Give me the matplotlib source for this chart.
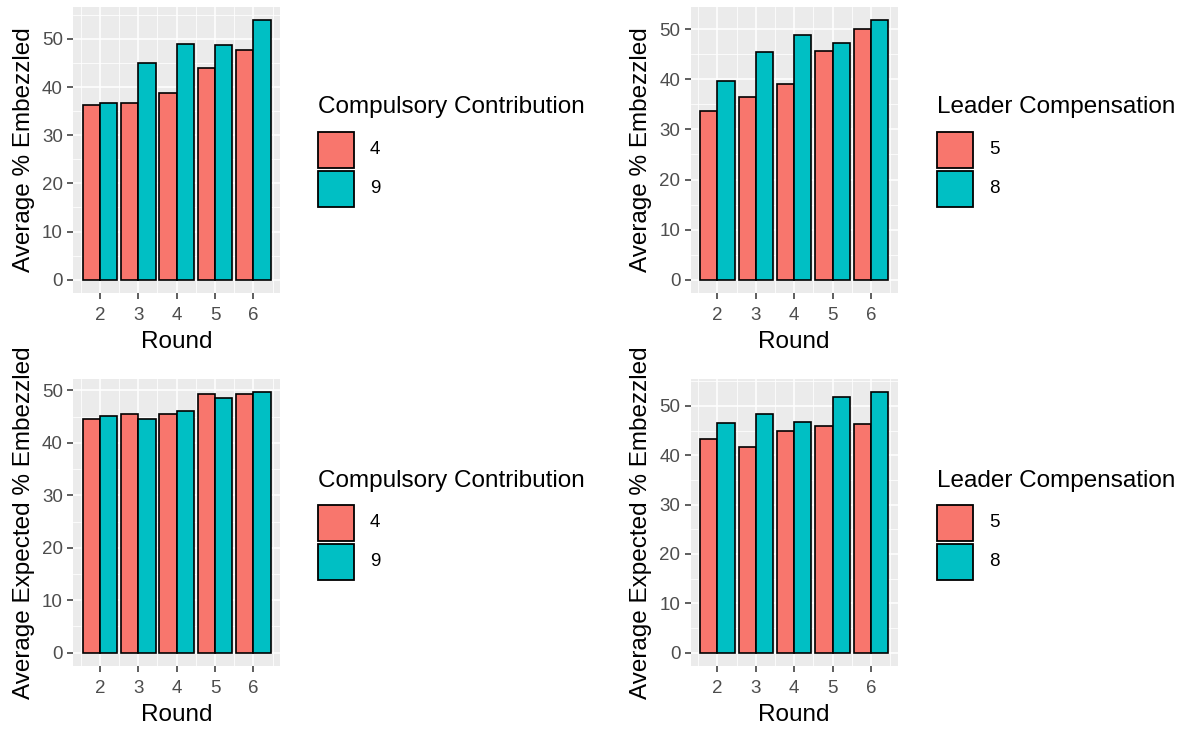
import matplotlib
matplotlib.use("Agg")
import matplotlib.pyplot as plt
from matplotlib.patches import Rectangle
import numpy as np

rounds = [2, 3, 4, 5, 6]

# Top-left: Average % Embezzled by Compulsory Contribution
cc_labels = ["4", "9"]
emb_cc4 = [36.2, 36.7, 38.7, 44.0, 47.7]
emb_cc9 = [36.7, 45.1, 49.0, 48.8, 54.0]

# Top-right: Average % Embezzled by Leader Compensation
lc_labels = ["5", "8"]
emb_lc5 = [33.6, 36.5, 39.0, 45.7, 50.0]
emb_lc8 = [39.6, 45.5, 48.9, 47.3, 51.9]

# Bottom-left: Average Expected % Embezzled by Compulsory Contribution
exp_cc4 = [44.5, 45.5, 45.5, 49.4, 49.4]
exp_cc9 = [45.1, 44.5, 46.1, 48.5, 49.7]

# Bottom-right: Average Expected % Embezzled by Leader Compensation
exp_lc5 = [43.2, 41.7, 45.0, 46.0, 46.3]
exp_lc8 = [46.5, 48.4, 46.7, 51.7, 52.8]

RED = "#F8766D"
TEAL = "#00BFC4"
FONT = "Liberation Sans"
TICK_FS = 13.5
TITLE_FS = 17.5

W, H = 1189, 729
fig = plt.figure(figsize=(W / 100, H / 100), dpi=100)
fig.patch.set_facecolor("white")


def px_axes(left, top, right, bottom):
    return fig.add_axes([left / W, 1 - bottom / H, (right - left) / W, (bottom - top) / H])


def panel(ax, a, b, ylabel):
    x = np.array(rounds, dtype=float)
    w = 0.45
    ax.bar(x - w / 2, a, width=w, color=RED, edgecolor="black", linewidth=1.2, zorder=3)
    ax.bar(x + w / 2, b, width=w, color=TEAL, edgecolor="black", linewidth=1.2, zorder=3)
    ymax = max(max(a), max(b))
    ax.set_ylim(-0.05 * ymax, ymax * 1.05)
    lo, hi = min(rounds) - 0.45, max(rounds) + 0.45
    pad = (hi - lo) * 0.05
    ax.set_xlim(lo - pad, hi + pad)
    ax.set_facecolor("#EBEBEB")
    for s in ax.spines.values():
        s.set_visible(False)
    ax.set_xticks(rounds)
    ax.set_xticks([r - 0.5 for r in rounds] + [max(rounds) + 0.5], minor=True)
    ax.set_yticks(np.arange(0, ymax + 1, 10))
    ax.set_yticks(np.arange(5, ymax * 1.05, 10), minor=True)
    ax.grid(which="major", color="white", linewidth=1.1, zorder=0)
    ax.grid(which="minor", color="white", linewidth=0.55, zorder=0)
    ax.set_axisbelow(True)
    ax.tick_params(which="major", length=4, width=1.1, color="#333333",
                   labelcolor="#4D4D4D", labelsize=TICK_FS)
    ax.tick_params(axis="x", which="major", pad=6.5)
    ax.tick_params(axis="y", which="major", pad=3.5)
    ax.tick_params(which="minor", length=0)
    for lab in ax.get_xticklabels() + ax.get_yticklabels():
        lab.set_fontfamily(FONT)
    ax.set_xlabel("Round", fontsize=TITLE_FS, fontfamily=FONT, labelpad=4.5)
    ax.set_ylabel(ylabel, fontsize=TITLE_FS, fontfamily=FONT, labelpad=5)


def legend(x0, cy, title, labels):
    key = 36
    step = 39
    title_h = 24
    gap = 12
    total = title_h + gap + step + key
    top = cy - total / 2
    fig.text(x0 / W, 1 - (top + title_h * 0.5) / H, title, fontsize=TITLE_FS,
             fontfamily=FONT, va="center", ha="left")
    ky = top + title_h + gap
    for i, (lab, col) in enumerate(zip(labels, [RED, TEAL])):
        yy = ky + i * step
        fig.add_artist(Rectangle((x0 / W, 1 - (yy + key) / H), key / W, key / H,
                                 facecolor=col, edgecolor="black", linewidth=1.3,
                                 transform=fig.transFigure))
        fig.text((x0 + key + 16) / W, 1 - (yy + key / 2) / H, lab, fontsize=TICK_FS,
                 fontfamily=FONT, va="center", ha="left")


ax1 = px_axes(73.3, 6.7, 280, 292.7)
panel(ax1, emb_cc4, emb_cc9, "Average % Embezzled")
ax2 = px_axes(690.7, 6.7, 897.7, 292.7)
panel(ax2, emb_lc5, emb_lc8, "Average % Embezzled")
ax3 = px_axes(73.3, 379, 280, 665.7)
panel(ax3, exp_cc4, exp_cc9, "Average Expected % Embezzled")
ax4 = px_axes(690.7, 379, 897.7, 665.7)
panel(ax4, exp_lc5, exp_lc8, "Average Expected % Embezzled")

legend(318, 151, "Compulsory Contribution", cc_labels)
legend(937, 151, "Leader Compensation", lc_labels)
legend(318, 524, "Compulsory Contribution", cc_labels)
legend(937, 524, "Leader Compensation", lc_labels)

fig.savefig("out.png", dpi=100)
